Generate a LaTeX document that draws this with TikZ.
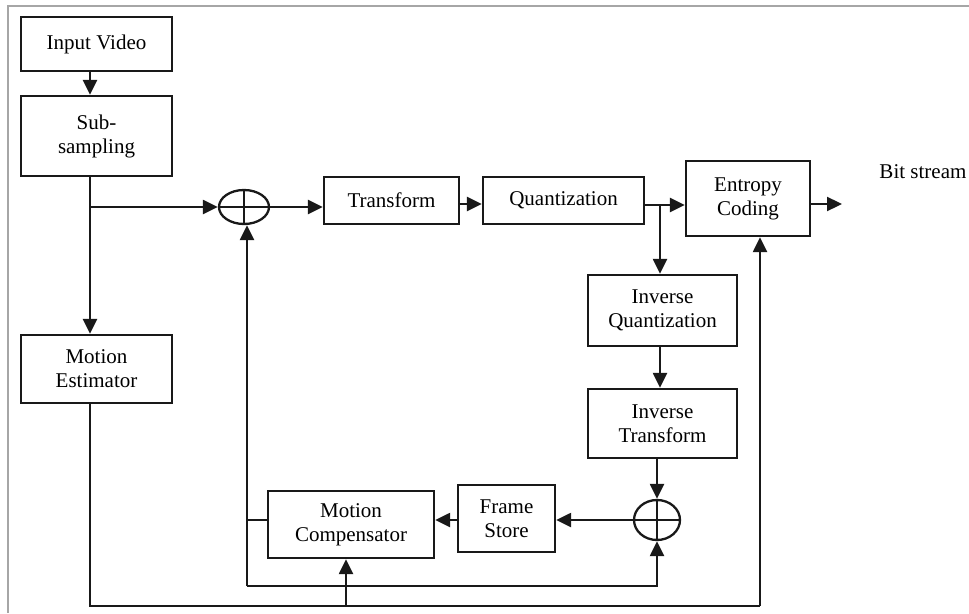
\documentclass[tikz,border=0pt]{standalone}
\usepackage{fontspec}
\setmainfont{Liberation Serif}
\usetikzlibrary{shapes.geometric,arrows.meta}
\begin{document}
\begin{tikzpicture}[x=1pt,y=-1pt,
  line width=2.3pt,
  every node/.style={font=\fontsize{21}{24}\selectfont, text=black},
  blk/.style={draw=black!90, rectangle, align=center, inner sep=0pt},
  sumnode/.style={draw=black!90, ellipse, inner sep=0pt,
     path picture={\draw[black!90, line width=2pt]
        (path picture bounding box.north) -- (path picture bounding box.south)
        (path picture bounding box.west) -- (path picture bounding box.east);}},
  arr/.style={draw=black!90, -{Triangle[length=15pt,width=14pt]}},
  ln/.style={draw=black!90}]
\useasboundingbox (0,0) rectangle (969,613);
\draw[gray!70, line width=1.5pt] (8,613) -- (8,6) -- (969,6);

\node[blk, minimum width=151pt, minimum height=54pt] (iv) at (96.5,44) {Input Video};
\node[blk, minimum width=151pt, minimum height=80pt] (ss) at (96.5,136) {Sub-\\sampling};
\node[blk, minimum width=151pt, minimum height=68pt] (me) at (96.5,369) {Motion\\Estimator};
\node[sumnode, minimum width=50pt, minimum height=34pt] (s1) at (244,207) {};
\node[blk, minimum width=135pt, minimum height=47pt] (tr) at (391.5,200.5) {Transform};
\node[blk, minimum width=161pt, minimum height=47pt] (qu) at (563.5,200.5) {Quantization};
\node[blk, minimum width=124pt, minimum height=75pt] (ec) at (748,198.5) {Entropy\\Coding};
\node[anchor=base west] (bs) at (875,178) {Bit stream};
\coordinate (out) at (842,204);
\node[blk, minimum width=149pt, minimum height=71pt] (iq) at (662.5,310.5) {Inverse\\Quantization};
\node[blk, minimum width=149pt, minimum height=69pt] (it) at (662.5,423.5) {Inverse\\Transform};
\node[sumnode, minimum width=46pt, minimum height=40pt] (s2) at (657,520) {};
\node[blk, minimum width=97pt, minimum height=67pt] (fs) at (506.5,518.5) {Frame\\Store};
\node[blk, minimum width=166pt, minimum height=67pt] (mc) at (351,524.5) {Motion\\Compensator};

\coordinate (c90) at (90,0);
\coordinate (br1) at (90,207);
\coordinate (c247) at (247,0);
\coordinate (fb) at (247,586);
\coordinate (c660) at (660,0);
\coordinate (br2) at (660,205);
\coordinate (bl) at (90,606);
\coordinate (br) at (760,606);
\coordinate (bm) at (346,606);

\draw[arr] (iv.south -| c90) -- (ss.north -| c90);
\draw[arr] (ss.south -| c90) -- (me.north -| c90);
\draw[arr] (br1) -- (s1.west);
\draw[arr] (s1.east) -- (tr.west |- s1.east);
\draw[arr] (tr.east |- 0,204) -- (qu.west |- 0,204);
\draw[ln] (qu.east |- br2) -- (br2);
\draw[arr] (br2) -- (ec.west |- br2);
\draw[arr] (ec.east |- out) -- (out);
\draw[arr] (br2) -- (iq.north -| c660);
\draw[arr] (iq.south -| c660) -- (it.north -| c660);
\draw[arr] (it.south -| s2.north) -- (s2.north);
\draw[arr] (s2.west) -- (fs.east |- s2.west);
\draw[arr] (fs.west |- s2.west) -- (mc.east |- s2.west);
\draw[ln] (mc.west |- s2.west) -- (c247 |- s2.west);
\draw[arr] (fb) -- (s1.south -| fb);
\draw[arr] (fb) -- (fb -| s2.south) -- (s2.south);
\draw[ln] (me.south -| c90) -- (bl) -- (br);
\draw[arr] (br) -- (ec.south -| br);
\draw[arr] (bm) -- (mc.south -| bm);
\end{tikzpicture}
\end{document}
